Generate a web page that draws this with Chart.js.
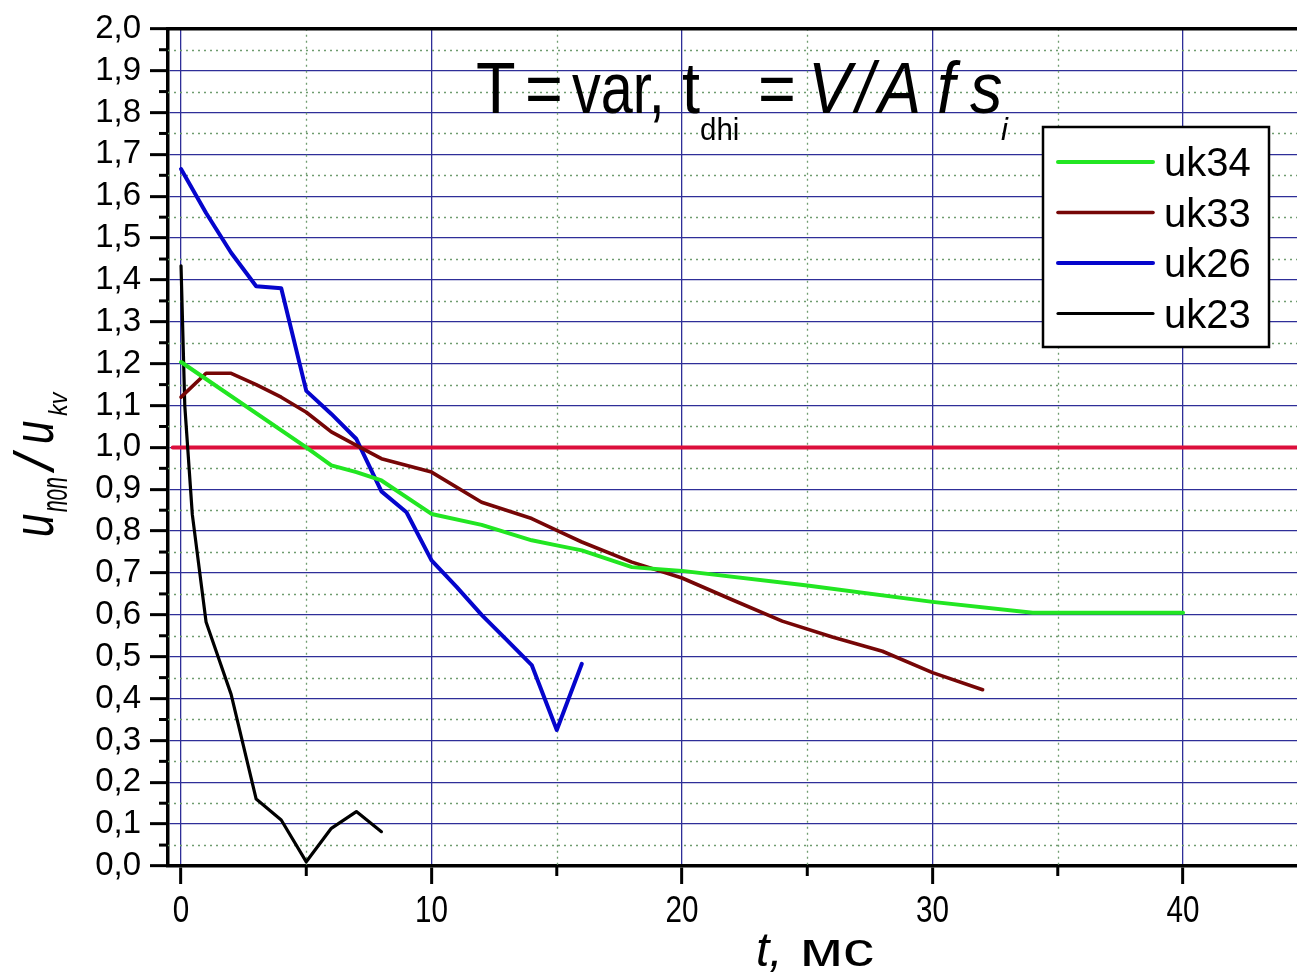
<!DOCTYPE html>
<html>
<head>
<meta charset="utf-8">
<script src="https://cdn.jsdelivr.net/npm/chart.js@4.4.1/dist/chart.umd.min.js"></script>
<style>
  html, body { margin: 0; padding: 0; background: #ffffff; }
  #wrap { width: 1297px; height: 975px; }
</style>
</head>
<body>
<div id="wrap"><canvas id="c" width="1297" height="975"></canvas></div>
<script>
// Series: time t (ms) and relative voltage u/ukv
const seriesNames = ['uk34', 'uk33', 'uk26', 'uk23'];

const tUk34 = [0, 5, 6, 7, 8, 10, 12, 14, 15, 16, 18, 20, 25, 30, 34, 40];
const uk34  = [1.204, 1.0, 0.957, 0.941, 0.921, 0.841, 0.815, 0.778, 0.766, 0.754, 0.714, 0.705, 0.670, 0.631, 0.605, 0.605];

const tUk33 = [0, 1, 2, 3, 4, 5, 6, 7, 8, 10, 12, 14, 15, 16, 18, 20, 22, 24, 26, 28, 30, 32];
const uk33  = [1.12, 1.177, 1.177, 1.15, 1.12, 1.084, 1.037, 1.005, 0.973, 0.941, 0.869, 0.830, 0.802, 0.774, 0.726, 0.688, 0.636, 0.585, 0.547, 0.513, 0.462, 0.421];

const tUk26 = [0, 1, 2, 3, 4, 5, 6, 7, 8, 9, 10, 11, 12, 13, 14, 15, 16];
const uk26  = [1.665, 1.56, 1.465, 1.385, 1.38, 1.135, 1.08, 1.02, 0.895, 0.845, 0.73, 0.667, 0.60, 0.54, 0.48, 0.325, 0.483];

const tUk23 = [0, 0.15, 0.45, 1, 2, 3, 4, 5, 6, 7, 8];
const uk23  = [1.434, 1.10, 0.84, 0.583, 0.41, 0.16, 0.11, 0.01, 0.09, 0.13, 0.082];

// Reference level u/ukv = 1
const refT = [-0.33, 45];
const refU = [1.0, 1.0];

// Axis ticks
const xMajorTicks = [0, 10, 20, 30, 40];
const xTickLabels = ['0', '10', '20', '30', '40'];
const xMinorTicks = [5, 15, 25, 35];
const yMajorTicks = [0.0, 0.1, 0.2, 0.3, 0.4, 0.5, 0.6, 0.7, 0.8, 0.9, 1.0, 1.1, 1.2, 1.3, 1.4, 1.5, 1.6, 1.7, 1.8, 1.9, 2.0];
const yTickLabels = ['0,0', '0,1', '0,2', '0,3', '0,4', '0,5', '0,6', '0,7', '0,8', '0,9', '1,0', '1,1', '1,2', '1,3', '1,4', '1,5', '1,6', '1,7', '1,8', '1,9', '2,0'];
const yMinorTicks = [0.05, 0.15, 0.25, 0.35, 0.45, 0.55, 0.65, 0.75, 0.85, 0.95, 1.05, 1.15, 1.25, 1.35, 1.45, 1.55, 1.65, 1.75, 1.85, 1.95];

const FONT = '"Liberation Sans", Arial, sans-serif';

function pts(xs, ys) { return xs.map((x, i) => ({ x: x, y: ys[i] })); }

// Draws a run of text with optional horizontal squeeze; returns the x after the run
function run(ctx, text, x, y, size, italic, sx) {
  ctx.save();
  ctx.font = (italic ? 'italic ' : '') + size + 'px ' + FONT;
  ctx.translate(x, y);
  ctx.scale(sx || 1, 1);
  ctx.fillText(text, 0, 0);
  const w = ctx.measureText(text).width * (sx || 1);
  ctx.restore();
  return x + w;
}

const decorations = {
  id: 'decorations',
  beforeDatasetsDraw(chart) {
    const ctx = chart.ctx;
    const a = chart.chartArea;
    const xs = chart.scales.x, ys = chart.scales.y;
    ctx.save();
    // dotted minor grid
    ctx.strokeStyle = '#6f9c6f';
    ctx.lineWidth = 1.3;
    ctx.setLineDash([2, 4]);
    yMinorTicks.forEach(v => {
      const py = Math.round(ys.getPixelForValue(v)) + 0.5;
      ctx.beginPath(); ctx.moveTo(a.left, py); ctx.lineTo(a.right, py); ctx.stroke();
    });
    xMinorTicks.forEach(v => {
      const px = Math.round(xs.getPixelForValue(v)) + 0.5;
      ctx.beginPath(); ctx.moveTo(px, a.top); ctx.lineTo(px, a.bottom); ctx.stroke();
    });
    ctx.setLineDash([]);
    // minor tick marks
    ctx.strokeStyle = '#000';
    ctx.lineWidth = 3;
    yMinorTicks.forEach(v => {
      const py = ys.getPixelForValue(v);
      ctx.beginPath(); ctx.moveTo(a.left - 9, py); ctx.lineTo(a.left, py); ctx.stroke();
    });
    xMinorTicks.forEach(v => {
      const px = xs.getPixelForValue(v);
      ctx.beginPath(); ctx.moveTo(px, a.bottom); ctx.lineTo(px, a.bottom + 10); ctx.stroke();
    });
    // top frame line
    ctx.lineWidth = 3.5;
    ctx.beginPath(); ctx.moveTo(a.left - 1.5, a.top); ctx.lineTo(a.right, a.top); ctx.stroke();
    ctx.restore();
  },
  afterDatasetsDraw(chart) {
    const ctx = chart.ctx;
    const a = chart.chartArea;
    const xs = chart.scales.x;
    ctx.save();
    ctx.fillStyle = '#000';
    ctx.textBaseline = 'alphabetic';

    // x tick labels
    ctx.font = '37px ' + FONT;
    xMajorTicks.forEach((v, i) => {
      const px = xs.getPixelForValue(v);
      const w = ctx.measureText(xTickLabels[i]).width * 0.8;
      run(ctx, xTickLabels[i], px - w / 2, a.bottom + 56, 37, false, 0.8);
    });

    // legend box
    const lx = 1043, ly = 127, lw = 226, lh = 220;
    ctx.fillStyle = '#ffffff';
    ctx.fillRect(lx, ly, lw, lh);
    ctx.strokeStyle = '#000';
    ctx.lineWidth = 2.5;
    ctx.strokeRect(lx, ly, lw, lh);
    const legendSets = chart.data.datasets.filter(d => d.label);
    legendSets.forEach((d, i) => {
      const yy = ly + 35 + i * 50.5;
      ctx.strokeStyle = d.borderColor;
      ctx.lineWidth = d.borderWidth;
      ctx.lineCap = 'round';
      ctx.beginPath(); ctx.moveTo(lx + 15, yy); ctx.lineTo(lx + 110, yy); ctx.stroke();
      ctx.fillStyle = '#000';
      run(ctx, d.label, lx + 121, yy + 14, 40, false, 1.0);
    });

    // chart title: T = var, t_dhi = V/A f s_i
    ctx.fillStyle = '#000';
    const by = 113;
    run(ctx, 'T', 476, by, 72, false, 0.9);
    run(ctx, '=', 525, by, 72, false, 0.9);
    run(ctx, 'var,', 572, by, 72, false, 0.8);
    run(ctx, 't', 682, by, 72, false, 0.9);
    run(ctx, 'dhi', 700, 140, 31, false, 0.95);
    run(ctx, '=', 758, by, 72, false, 0.9);
    run(ctx, 'V', 808, by, 72, true, 0.9);
    run(ctx, '/', 856, by, 72, true, 0.9);
    run(ctx, 'A', 878, by, 72, true, 0.9);
    run(ctx, 'f', 937, by, 72, true, 0.9);
    run(ctx, 's', 970, by, 72, true, 0.9);
    run(ctx, 'i', 1001, 140, 31, true, 1.0);

    // x axis title: t, мс
    run(ctx, 't,', 756, 966, 48, true, 1.0);
    run(ctx, 'мс', 800, 966, 48, false, 1.3);

    // y axis title: u_non / u_kv (rotated)
    ctx.save();
    ctx.translate(53, 537);
    ctx.rotate(-Math.PI / 2);
    run(ctx, 'u', 0, 0, 58, true, 0.72);
    run(ctx, 'non', 25, 14, 36, true, 0.58);
    run(ctx, '/', 67, 0, 56, true, 1.0);
    run(ctx, 'u', 93, 0, 58, true, 0.72);
    run(ctx, 'kv', 121, 14, 26, true, 0.9);
    ctx.restore();

    ctx.restore();
  }
};

const lineStyle = { pointRadius: 0, tension: 0, fill: false, borderJoinStyle: 'round', borderCapStyle: 'round' };

new Chart(document.getElementById('c'), {
  type: 'line',
  data: {
    datasets: [
      Object.assign({ label: seriesNames[0], data: pts(tUk34, uk34), borderColor: '#22e622', borderWidth: 4 }, lineStyle),
      Object.assign({ label: seriesNames[1], data: pts(tUk33, uk33), borderColor: '#760606', borderWidth: 3.6 }, lineStyle),
      Object.assign({ label: seriesNames[2], data: pts(tUk26, uk26), borderColor: '#0505cc', borderWidth: 4 }, lineStyle),
      Object.assign({ label: seriesNames[3], data: pts(tUk23, uk23), borderColor: '#000000', borderWidth: 3.2 }, lineStyle),
      Object.assign({ label: '', data: pts(refT, refU), borderColor: '#dc0f3c', borderWidth: 4 }, lineStyle)
    ]
  },
  plugins: [decorations],
  options: {
    responsive: false,
    animation: false,
    devicePixelRatio: 1,
    layout: { padding: { top: 28, right: 0, left: 0, bottom: 0 } },
    plugins: { legend: { display: false }, title: { display: false }, tooltip: { enabled: false } },
    scales: {
      x: {
        type: 'linear',
        min: -0.52,
        max: 44.55,
        afterBuildTicks: s => { s.ticks = xMajorTicks.map(v => ({ value: v })); },
        afterFit: s => { s.height = 109; },
        ticks: { display: false },
        grid: { color: '#2e2e98', lineWidth: 1.3, drawTicks: true, tickLength: 18, tickWidth: 3, tickColor: '#000' },
        border: { display: true, color: '#000', width: 3.5 }
      },
      y: {
        type: 'linear',
        min: 0,
        max: 2,
        afterBuildTicks: s => { s.ticks = yMajorTicks.map(v => ({ value: v })); },
        afterFit: s => { s.width = 168; },
        ticks: {
          color: '#000',
          padding: 9,
          autoSkip: false,
          font: { family: FONT, size: 33 },
          callback: (v, i) => yTickLabels[i]
        },
        grid: { color: '#2e2e98', lineWidth: 1.3, drawTicks: true, tickLength: 18, tickWidth: 3, tickColor: '#000' },
        border: { display: true, color: '#000', width: 3.5 }
      }
    }
  }
});
</script>
</body>
</html>
